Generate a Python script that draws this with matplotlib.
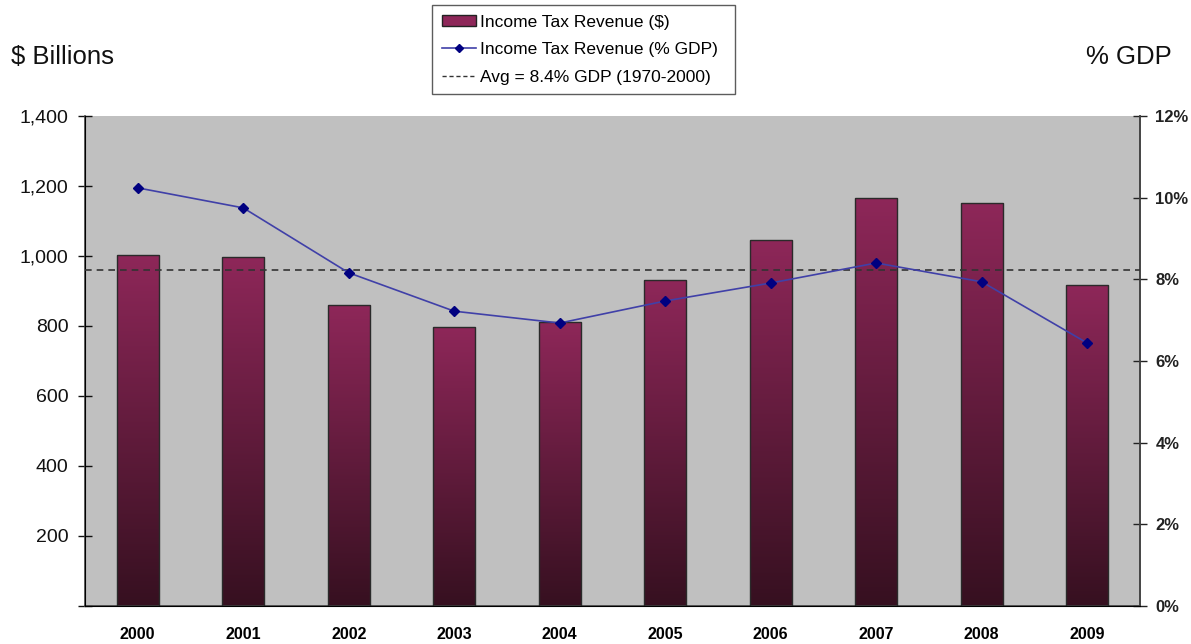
import matplotlib
matplotlib.use("Agg")
import matplotlib.pyplot as plt
import numpy as np
from matplotlib.ticker import FuncFormatter
from matplotlib.lines import Line2D
from matplotlib.patches import Patch
from matplotlib.colors import LinearSegmentedColormap

years = ["2000", "2001", "2002", "2003", "2004", "2005", "2006", "2007", "2008", "2009"]
revenue_billions = [1004, 997, 860, 797, 811, 931, 1046, 1166, 1151, 917]
revenue_pct_gdp = [10.24, 9.75, 8.16, 7.22, 6.93, 7.47, 7.91, 8.40, 7.94, 6.44]
avg_line_pct = 8.24
left_ticks = [0, 200, 400, 600, 800, 1000, 1200, 1400]
right_ticks = [0, 2, 4, 6, 8, 10, 12]

plt.rcParams['font.family'] = ['Liberation Sans', 'DejaVu Sans']

fig = plt.figure(figsize=(11.91, 6.44), dpi=100)
ax = fig.add_axes([85/1191, 38/644, 1055/1191, 490/644])
ax.set_facecolor('#C0C0C0')
x = np.arange(len(years))

cmap = LinearSegmentedColormap.from_list('g', ['#361020', '#8E2759'])
grad = np.linspace(0, 1, 256).reshape(-1, 1)
bw = 0.40
bars = ax.bar(x, revenue_billions, width=bw, facecolor='none', edgecolor='#2a2a2a', linewidth=1.0, zorder=3)
for b, v in zip(bars, revenue_billions):
    x0 = b.get_x()
    im = ax.imshow(grad, extent=[x0, x0 + bw, 0, v], origin='lower', aspect='auto',
                   cmap=cmap, vmin=0, vmax=1, zorder=2)
    im.set_clip_path(b)
ax.set_aspect('auto')
ax.set_xlim(-0.5, len(years) - 0.5)
ax.set_ylim(0, 1400)

ax.set_yticks(left_ticks)
ax.yaxis.set_major_formatter(FuncFormatter(lambda v, p: '' if v == 0 else f"{int(v):,}"))
ax.tick_params(axis='y', direction='inout', length=10, width=1, labelsize=14, pad=7, colors='#111111')
ax.set_xticks(x)
ax.set_xticklabels(years, fontweight='bold', fontsize=11.5)
ax.tick_params(axis='x', length=0, pad=15)
ax.spines['top'].set_visible(False)
for s in ['left', 'bottom', 'right']:
    ax.spines[s].set_color('#444444')
    ax.spines[s].set_linewidth(1.2)

ax2 = ax.twinx()
ax2.set_ylim(0, 12)
ax2.set_yticks(right_ticks)
ax2.yaxis.set_major_formatter(FuncFormatter(lambda v, p: f"{int(v)}%"))
ax2.tick_params(axis='y', direction='inout', length=10, width=1, labelsize=12, pad=6, colors='#222222')
for lab in ax2.get_yticklabels():
    lab.set_fontweight('bold')
    lab.set_family(['Liberation Sans Narrow', 'Liberation Sans', 'DejaVu Sans'])
ax2.spines['top'].set_visible(False)
ax2.spines['right'].set_color('#444444')
ax2.spines['right'].set_linewidth(1.2)

ax2.axhline(avg_line_pct, color='#333333', linestyle=(0, (4, 3)), linewidth=1.2, zorder=4)
ax2.plot(x, revenue_pct_gdp, color='#4040A8', linewidth=1.2, marker='D', markersize=5,
         markerfacecolor='#000080', markeredgecolor='#000080', zorder=5)

fig.text(11/1191, 1 - 57/644, '$ Billions', fontsize=18.5, va='center', ha='left', color='#111111')
fig.text(1172/1191, 1 - 57/644, '% GDP', fontsize=18.5, va='center', ha='right', color='#111111')

handles = [Patch(facecolor='#8E2759', edgecolor='#222222', linewidth=1.0),
           Line2D([], [], color='#4040A8', marker='D', markersize=4, markerfacecolor='#000080',
                  markeredgecolor='#000080', linewidth=1.2),
           Line2D([], [], color='#333333', linestyle=(0, (3, 2)), linewidth=1.0)]
labels = ['Income Tax Revenue ($)', 'Income Tax Revenue (% GDP)', 'Avg = 8.4% GDP (1970-2000)']
leg = fig.legend(handles, labels, loc='upper left',
                 bbox_to_anchor=(432/1191, 1 - 93/644, 303/1191, 88/644),
                 bbox_transform=fig.transFigure, mode='expand', fontsize=12.5, frameon=True,
                 fancybox=False, edgecolor='#333333', handlelength=2.0, handleheight=0.55,
                 handletextpad=0.2, borderpad=0.55, labelspacing=0.72, borderaxespad=0)
leg.get_frame().set_linewidth(1.0)

fig.savefig('out.png', dpi=100)
